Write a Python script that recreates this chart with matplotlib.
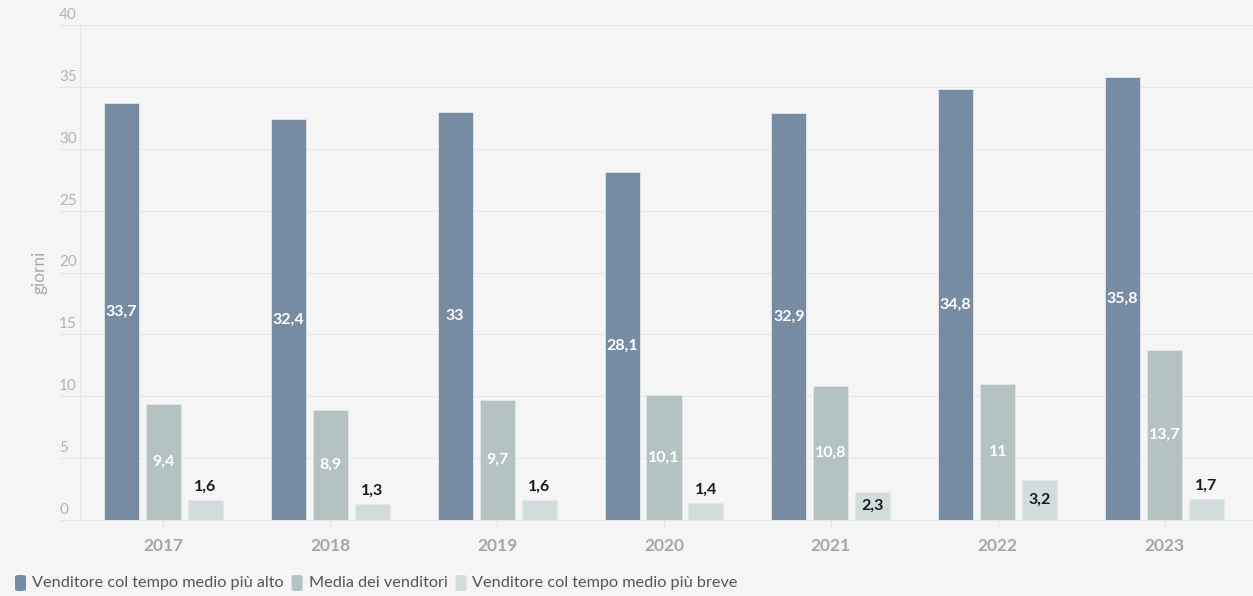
import matplotlib.pyplot as plt
import numpy as np
from matplotlib.patches import FancyBboxPatch
from matplotlib.transforms import offset_copy

years = ["2017", "2018", "2019", "2020", "2021", "2022", "2023"]
alto = [33.7, 32.4, 33.0, 28.1, 32.9, 34.8, 35.8]
media = [9.4, 8.9, 9.7, 10.1, 10.8, 11.0, 13.7]
breve = [1.6, 1.3, 1.6, 1.4, 2.3, 3.2, 1.7]
series_names = ["Venditore col tempo medio più alto", "Media dei venditori",
                "Venditore col tempo medio più breve"]
colors = ["#778ca3", "#b4c2c2", "#d2dcdd"]
yticks = [0, 5, 10, 15, 20, 25, 30, 35, 40]

def fmt(v):
    s = ("%.1f" % v).rstrip("0").rstrip(".")
    return s.replace(".", ",")

plt.rcParams['font.family'] = ['Lato', 'DejaVu Sans']
bg = "#f5f5f5"

fig = plt.figure(figsize=(12.53, 5.96), dpi=100, facecolor=bg)
ax = fig.add_axes([80 / 1253, 76 / 596, 1168 / 1253, 495 / 596])
ax.set_facecolor(bg)

x = np.arange(len(years))
w = 0.21
step = 0.2515
for k, (vals, c) in enumerate(zip([alto, media, breve], colors)):
    pos = x + (k - 1) * step
    ax.bar(pos, vals, w, color=c, edgecolor="#e3e8ea", linewidth=0.6, zorder=3)
    for p, v in zip(pos, vals):
        if k < 2:
            ax.text(p, v / 2, fmt(v), ha="center", va="center", color="white",
                    fontsize=11.5, fontweight="bold", zorder=4)
        elif v > 2:
            ax.text(p, v / 2, fmt(v), ha="center", va="center", color="#1a1a1a",
                    fontsize=11.5, fontweight="bold", zorder=4)
        else:
            ax.text(p, v + 0.5, fmt(v), ha="center", va="bottom", color="#1a1a1a",
                    fontsize=11.5, fontweight="bold", zorder=4)

ax.set_xlim(-0.5, len(years) - 0.5)
ax.set_ylim(0, 40)
ax.set_yticks(yticks)
ax.set_yticklabels([])
ax.tick_params(axis="y", length=0)
ax.set_xticks(x)
ax.set_xticklabels(years, fontsize=12.5, fontweight="bold", color="#a6a6a6")
ax.tick_params(axis="x", length=5, color="#e3e3e3", pad=8)
for s in ["top", "right", "bottom"]:
    ax.spines[s].set_visible(False)
ax.spines["left"].set_color("#e6e6e6")
ax.spines["left"].set_linewidth(0.8)

ytr = ax.get_yaxis_transform()
for t in yticks:
    ax.plot([-20 / 1168, 1.01], [t, t], transform=ytr, color="#e6e6e6",
            linewidth=0.8, zorder=1, clip_on=False)

trans = offset_copy(ytr, fig=fig, x=0, y=3, units="dots")
for t in yticks:
    ax.text(-21 / 1168, t, str(t), transform=trans, ha="left", va="bottom",
            fontsize=11, color="#b3b3b3", clip_on=False)

fig.text(40 / 1253, 1 - 272 / 596, "giorni", rotation=90, ha="center", va="center",
         fontsize=12.5, color="#aaaaaa")

# legend
lx = 15
for name, c in zip(series_names, colors):
    box = FancyBboxPatch((lx / 1253, 1 - 591 / 596), 11 / 1253, 16 / 596,
                         boxstyle="round,pad=0,rounding_size=0.003",
                         transform=fig.transFigure, facecolor=c, edgecolor="none")
    fig.patches.append(box)
    t = fig.text((lx + 17) / 1253, 1 - 583 / 596, name, ha="left", va="center",
                 fontsize=11.7, color="#555555")
    fig.canvas.draw()
    bb = t.get_window_extent()
    lx = bb.x1 + 8

fig.savefig("out.png", dpi=100, facecolor=bg)
